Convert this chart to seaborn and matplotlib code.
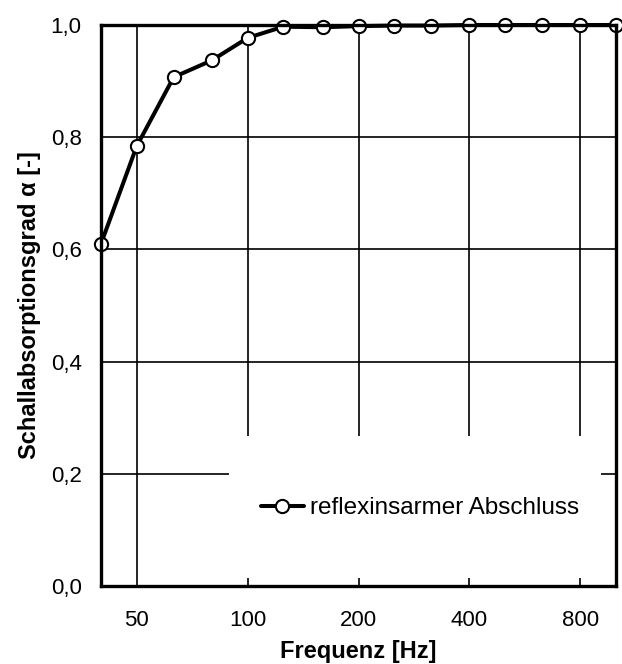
import matplotlib
matplotlib.use("Agg")
import matplotlib.pyplot as plt
import seaborn as sns
import pandas as pd
from matplotlib.patches import Rectangle
from matplotlib.ticker import FixedLocator, NullLocator

frequencies = [40, 50, 63, 80, 100, 125, 160, 200, 250, 315, 400, 500, 630, 800, 1000]
alpha_values = [0.610, 0.784, 0.907, 0.937, 0.977, 0.997, 0.996, 0.998, 0.999, 0.999, 1.0, 1.0, 1.0, 1.0, 1.0]
x_ticks = [50, 100, 200, 400, 800]
x_tick_labels = ["50", "100", "200", "400", "800"]
y_ticks = [0.0, 0.2, 0.4, 0.6, 0.8, 1.0]
y_tick_labels = ["0,0", "0,2", "0,4", "0,6", "0,8", "1,0"]
series_label = "reflexinsarmer Abschluss"

sns.set_style("white")
plt.rcParams["font.family"] = ["Liberation Sans", "DejaVu Sans"]
plt.rcParams["text.color"] = "black"
plt.rcParams["axes.labelcolor"] = "black"

df = pd.DataFrame({"Frequenz": frequencies, "alpha": alpha_values})

fig = plt.figure(figsize=(6.22, 6.64), dpi=100)
ax = fig.add_axes([101 / 622, 78 / 664, 515 / 622, 561 / 664])

sns.lineplot(data=df, x="Frequenz", y="alpha", ax=ax, color="black", linewidth=2.9,
             marker="o", markersize=9.5, markerfacecolor="white", markeredgecolor="black",
             markeredgewidth=1.5, label=series_label, clip_on=False, zorder=6)

ax.set_xscale("log")
ax.set_xlim(40, 1000)
ax.set_ylim(0, 1.0)
ax.xaxis.set_major_locator(FixedLocator(x_ticks))
ax.xaxis.set_minor_locator(NullLocator())
ax.set_xticklabels(x_tick_labels)
ax.set_yticks(y_ticks)
ax.set_yticklabels(y_tick_labels)

for xv in x_ticks:
    ax.axvline(xv, color="black", linewidth=1.2, zorder=1)
for yv in y_ticks[1:-1]:
    ax.axhline(yv, color="black", linewidth=1.2, zorder=1)

ax.tick_params(axis="x", direction="in", length=7, width=1.5, pad=17, labelsize=16,
               colors="black", labelcolor="black")
ax.tick_params(axis="y", length=0, pad=14, labelsize=16, colors="black", labelcolor="black")

for s in ax.spines.values():
    s.set_linewidth(2.4)
    s.set_color("black")
    s.set_zorder(7)

# white legend area covering the grid
ax.add_patch(Rectangle((0.249, 0.014), 0.722, 0.253, transform=ax.transAxes,
                       facecolor="white", edgecolor="none", zorder=3))
leg = ax.legend(loc="center left", bbox_to_anchor=(0.292, 0.139), frameon=False,
                fontsize=17.5, handlelength=1.75, handletextpad=0.25, borderaxespad=0)
leg.set_zorder(8)
for t in leg.get_texts():
    t.set_color("black")

ax.set_xlabel("Frequenz [Hz]", fontsize=17, fontweight="bold", labelpad=7)
ax.set_ylabel("Schallabsorptionsgrad α [-]", fontsize=17, fontweight="bold", labelpad=7)

fig.savefig("out.png", dpi=100)
